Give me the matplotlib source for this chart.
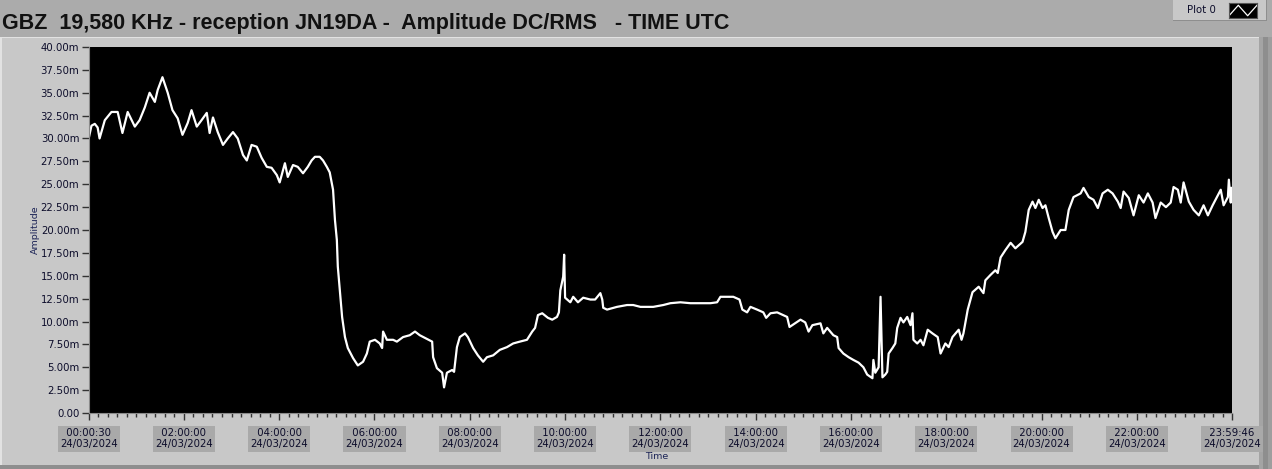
import numpy as np
import matplotlib
matplotlib.use("Agg")
import matplotlib.pyplot as plt
from matplotlib.patches import Rectangle
from matplotlib.ticker import MultipleLocator

# ------------------------------------------------------------------
#   GBZ 19.58 kHz reception, amplitude DC/RMS over 24/03/2024 (UTC)
# ------------------------------------------------------------------

title = "GBZ  19,580 KHz - reception JN19DA -  Amplitude DC/RMS   - TIME UTC"

# time in hours (UTC), amplitude in milli-units
hours = [
    0.01, 0.06, 0.13, 0.19, 0.23, 0.34, 0.48, 0.61, 0.71, 0.82, 0.97, 1.07,
    1.18, 1.28, 1.39, 1.45, 1.55, 1.66, 1.76, 1.87, 1.97, 2.08, 2.16, 2.27,
    2.37, 2.48, 2.54, 2.61, 2.71, 2.82, 2.92, 3.03, 3.13, 3.24, 3.32, 3.42,
    3.53, 3.63, 3.74, 3.84, 3.95, 4.01, 4.12, 4.18, 4.29, 4.39, 4.50, 4.60,
    4.68, 4.75, 4.85, 4.92, 5.00, 5.06, 5.13, 5.17, 5.21, 5.23, 5.32, 5.38,
    5.44, 5.55, 5.65, 5.76, 5.84, 5.90, 6.01, 6.11, 6.16, 6.18, 6.26, 6.39,
    6.47, 6.60, 6.74, 6.85, 6.95, 7.06, 7.21, 7.23, 7.31, 7.42, 7.46, 7.52,
    7.63, 7.67, 7.73, 7.79, 7.90, 7.96, 8.07, 8.17, 8.28, 8.36, 8.49, 8.63,
    8.78, 8.91, 9.05, 9.20, 9.31, 9.37, 9.43, 9.52, 9.64, 9.73, 9.83, 9.87,
    9.90, 9.96, 9.98, 10.00, 10.11, 10.17, 10.27, 10.38, 10.53, 10.63, 10.74,
    10.78, 10.80, 10.88, 11.09, 11.30, 11.43, 11.58, 11.72, 11.85, 12.06,
    12.21, 12.42, 12.63, 12.84, 13.05, 13.19, 13.26, 13.40, 13.53, 13.66,
    13.72, 13.82, 13.89, 14.03, 14.16, 14.22, 14.31, 14.45, 14.66, 14.71,
    14.94, 15.04, 15.11, 15.19, 15.36, 15.42, 15.50, 15.63, 15.71, 15.74,
    15.84, 15.95, 16.05, 16.16, 16.26, 16.34, 16.45, 16.47, 16.51, 16.58,
    16.62, 16.66, 16.72, 16.76, 16.79, 16.87, 16.93, 16.97, 17.04, 17.10,
    17.18, 17.25, 17.29, 17.31, 17.39, 17.46, 17.52, 17.61, 17.71, 17.82,
    17.88, 17.98, 18.05, 18.13, 18.26, 18.32, 18.36, 18.45, 18.55, 18.68,
    18.78, 18.82, 18.93, 19.03, 19.08, 19.14, 19.24, 19.35, 19.45, 19.60,
    19.66, 19.73, 19.81, 19.87, 19.94, 20.02, 20.08, 20.15, 20.23, 20.29,
    20.40, 20.50, 20.57, 20.67, 20.82, 20.88, 20.99, 21.09, 21.18, 21.28,
    21.39, 21.49, 21.60, 21.66, 21.72, 21.83, 21.93, 22.04, 22.14, 22.23,
    22.33, 22.39, 22.50, 22.61, 22.71, 22.77, 22.86, 22.92, 22.98, 23.09,
    23.19, 23.30, 23.40, 23.49, 23.59, 23.70, 23.76, 23.82, 23.91, 23.93,
    23.97, 23.99,
]
amplitude = [
    30.2, 31.4, 31.6, 31.2, 30.0, 32.0, 32.9, 32.9, 30.6, 32.9, 31.3, 32.0,
    33.4, 35.0, 34.0, 35.3, 36.7, 35.0, 33.1, 32.2, 30.4, 31.7, 33.1, 31.3,
    32.0, 32.8, 30.6, 32.3, 30.7, 29.3, 30.0, 30.7, 30.0, 28.2, 27.6, 29.3,
    29.1, 27.9, 26.9, 26.8, 26.0, 25.2, 27.3, 25.8, 27.1, 26.9, 26.2, 26.9,
    27.6, 28.0, 28.0, 27.6, 26.9, 26.3, 24.4, 21.1, 18.9, 16.0, 10.5, 8.3,
    7.1, 6.0, 5.2, 5.6, 6.5, 7.8, 8.0, 7.6, 7.1, 8.9, 8.0, 8.0,
    7.8, 8.3, 8.5, 8.9, 8.5, 8.2, 7.8, 6.1, 4.9, 4.4, 2.8, 4.4,
    4.7, 4.5, 7.2, 8.3, 8.7, 8.3, 7.1, 6.3, 5.6, 6.1, 6.3, 6.9,
    7.2, 7.6, 7.8, 8.0, 8.9, 9.3, 10.7, 10.9, 10.4, 10.2, 10.5, 11.0,
    13.4, 14.9, 17.3, 12.6, 12.1, 12.7, 12.1, 12.6, 12.4, 12.4, 13.1,
    12.4, 11.5, 11.3, 11.6, 11.8, 11.8, 11.6, 11.6, 11.6, 11.8,
    12.0, 12.1, 12.0, 12.0, 12.0, 12.1, 12.7, 12.7, 12.7, 12.4,
    11.3, 11.0, 11.6, 11.3, 11.0, 10.4, 10.9, 11.0, 10.5, 9.4,
    10.2, 9.9, 8.9, 9.6, 9.8, 8.7, 9.3, 8.5, 8.3, 7.1,
    6.5, 6.1, 5.8, 5.5, 5.0, 4.2, 3.8, 5.8, 4.4, 5.0,
    12.7, 3.9, 4.2, 4.5, 6.5, 7.1, 7.6, 9.3, 10.4, 9.9,
    10.5, 9.6, 10.9, 8.0, 7.6, 8.0, 7.4, 9.1, 8.7, 8.3,
    6.5, 7.6, 7.2, 8.3, 9.1, 8.0, 8.7, 11.3, 13.2, 13.8,
    13.1, 14.5, 15.1, 15.6, 15.3, 17.0, 17.8, 18.6, 18.0, 18.7,
    19.8, 22.2, 23.1, 22.4, 23.3, 22.4, 22.7, 21.3, 19.8, 19.1,
    20.0, 20.0, 22.2, 23.6, 24.0, 24.6, 23.6, 23.3, 22.4, 24.0,
    24.4, 24.0, 23.1, 22.4, 24.2, 23.5, 21.6, 23.8, 23.0, 24.0,
    23.0, 21.3, 23.0, 22.5, 23.0, 24.7, 24.4, 23.0, 25.2, 23.1,
    22.2, 21.6, 22.7, 21.6, 22.7, 23.8, 24.4, 22.7, 23.6, 25.5,
    23.0, 24.6,
]

y_ticks = np.arange(0, 40.01, 2.5)
x_ticks = [0.5 / 60, 2, 4, 6, 8, 10, 12, 14, 16, 18, 20, 22, 23 + 59 / 60 + 46 / 3600]
x_times = ["00:00:30", "02:00:00", "04:00:00", "06:00:00", "08:00:00", "10:00:00",
           "12:00:00", "14:00:00", "16:00:00", "18:00:00", "20:00:00", "22:00:00",
           "23:59:46"]
date_str = "24/03/2024"

W, H = 1272, 469
panel = "#C8C8C8"
txt = "#0c0c2a"


def fx(px):
    return px / W


def fy(py):
    return 1 - py / H


def box(x0, y0, x1, y1, color):
    fig.add_artist(Rectangle((fx(x0), fy(y1)), fx(x1) - fx(x0), fy(y0) - fy(y1),
                             transform=fig.transFigure, facecolor=color,
                             edgecolor="none", zorder=0))


fig = plt.figure(figsize=(W / 100, H / 100), dpi=100, facecolor=panel)

# frame pieces (LabVIEW style panel)
box(0, 0, W, 37, "#ABABAB")
box(0, 37, 1259, 38, "#E2E2E2")
box(1259, 37, 1263, H, "#A4A4A4")
box(1263, 37, 1268, H, "#8E8E8E")
box(1268, 37, W, H, "#9E9E9E")
box(0, 465, 1259, H, "#8E8E8E")
box(0, 38, 2, 465, "#E2E2E2")

fig.text(fx(2), fy(23), title, fontsize=15.5, fontweight="bold",
         family="Liberation Sans", color="#111111", va="center", ha="left")

# Plot 0 legend
box(1173, 0, 1267, 21, "#C8C8C8")
box(1173, 20, 1267, 21, "#8E8E8E")
box(1266, 0, 1267, 21, "#8E8E8E")
fig.text(fx(1201), fy(10), "Plot 0", fontsize=7.3, color=txt, ha="center", va="center")
sw = fig.add_axes([fx(1229), fy(18), fx(1257) - fx(1229), fy(3) - fy(18)])
sw.set_facecolor("black")
sw.plot([0, 1, 2, 3], [0.15, 0.85, 0.15, 0.85], color="white", lw=0.9)
sw.set_xlim(0, 3)
sw.set_ylim(0, 1)
sw.set_xticks([])
sw.set_yticks([])
for s in sw.spines.values():
    s.set_color("#555555")

# main chart
ax = fig.add_axes([fx(89), fy(413), fx(1232) - fx(89), fy(47) - fy(413)])
ax.set_facecolor("black")
ax.plot(hours, amplitude, color="white", lw=1.6)
ax.set_xlim(x_ticks[0], x_ticks[-1])
ax.set_ylim(0, 40)

ax.set_yticks(y_ticks)
ax.set_yticklabels(["0.00" if v == 0 else "%.2fm" % v for v in y_ticks])
ax.set_xticks(x_ticks)
ax.set_xticklabels([" %s \n%s" % (t, date_str) for t in x_times])
ax.xaxis.set_minor_locator(MultipleLocator(0.2))

ax.tick_params(axis="y", direction="out", length=5, width=1, color="#333333",
               labelsize=7.3, labelcolor=txt, pad=2)
ax.tick_params(axis="x", which="major", direction="out", length=5, width=1,
               color="#333333", labelsize=7.3, labelcolor=txt, pad=6)
ax.tick_params(axis="x", which="minor", direction="out", length=3, width=1,
               color="#333333")
for lab in ax.get_xticklabels():
    lab.set_linespacing(1.15)
    lab.set_bbox(dict(facecolor="#A9A9A9", edgecolor="none", pad=1.5))

for side in ["top", "right"]:
    ax.spines[side].set_visible(False)
ax.spines["left"].set_color("#8A8A8A")
ax.spines["bottom"].set_color("#8A8A8A")

fig.text(fx(35), fy(230), "Amplitude", rotation=90, fontsize=6.8, color="#1c2456",
         ha="center", va="center")
fig.text(fx(657), fy(456), "Time", fontsize=6.8, color="#1c2456",
         ha="center", va="center")

fig.savefig("out.png", dpi=100, facecolor=panel)
